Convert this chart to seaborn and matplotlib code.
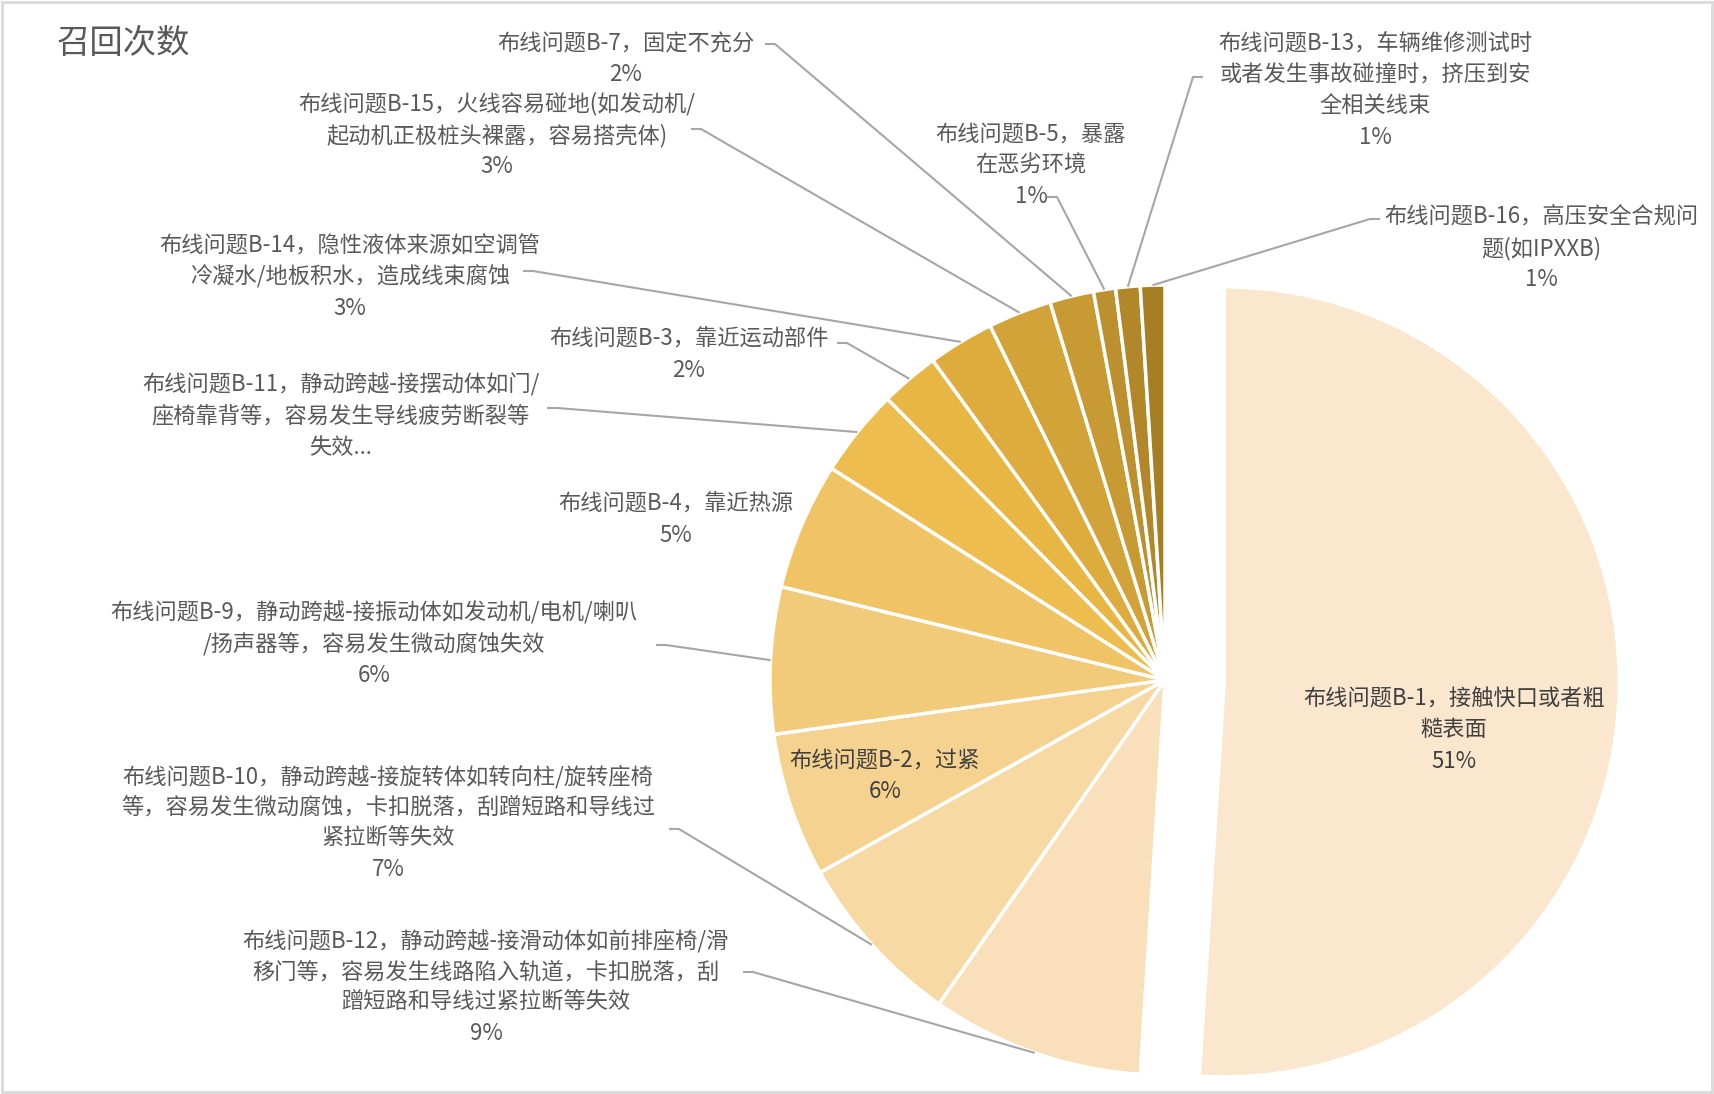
import matplotlib
matplotlib.use("Agg")
import matplotlib.pyplot as plt
import seaborn as sns
import numpy as np

# recall issues, in pie order (clockwise from 12 o'clock)
issues = ["B-1", "B-12", "B-10", "B-2", "B-9", "B-4", "B-11",
          "B-3", "B-14", "B-15", "B-7", "B-5", "B-13", "B-16"]

label_texts = [
    "布线问题B-1，接触快口或者粗\n糙表面",
    "布线问题B-12，静动跨越-接滑动体如前排座椅/滑\n移门等，容易发生线路陷入轨道，卡扣脱落，刮\n蹭短路和导线过紧拉断等失效",
    "布线问题B-10，静动跨越-接旋转体如转向柱/旋转座椅\n等，容易发生微动腐蚀，卡扣脱落，刮蹭短路和导线过\n紧拉断等失效",
    "布线问题B-2，过紧",
    "布线问题B-9，静动跨越-接振动体如发动机/电机/喇叭\n/扬声器等，容易发生微动腐蚀失效",
    "布线问题B-4，靠近热源",
    "布线问题B-11，静动跨越-接摆动体如门/\n座椅靠背等，容易发生导线疲劳断裂等\n失效...",
    "布线问题B-3，靠近运动部件",
    "布线问题B-14，隐性液体来源如空调管\n冷凝水/地板积水，造成线束腐蚀",
    "布线问题B-15，火线容易碰地(如发动机/\n起动机正极桩头裸露，容易搭壳体)",
    "布线问题B-7，固定不充分",
    "布线问题B-5，暴露\n在恶劣环境",
    "布线问题B-13，车辆维修测试时\n或者发生事故碰撞时，挤压到安\n全相关线束",
    "布线问题B-16，高压安全合规问\n题(如IPXXB)",
]

# share of recalls (%)
shares = [51.0, 8.7, 7.2, 5.9, 6.0, 5.2, 3.6, 2.4, 2.7, 2.6, 1.8, 0.9, 1.0, 1.0]

# B-11's percentage is cut off in the original label box
show_pct = [True] * 14
show_pct[6] = False

title = "召回次数"

# ---- layout (pixels, y down) ----
W, H = 1714, 1094
center = (1165, 680)
radius = 395
label_xy = [(1454, 730), (486, 987), (388, 823), (885, 776), (374, 644),
            (676, 520), (341, 416), (689, 355), (350, 277), (497, 135),
            (626, 59), (1031, 165), (1375, 91), (1541, 248)]
leader_from = [None, (743, 972), (669, 829), None, (656, 645),
               None, (547, 408), (837, 343), (523, 271), (691, 129),
               (765, 44), (1047, 197), (1203, 77), (1380, 219)]
inside = [True, False, False, True] + [False] * 10

sns.set_theme(style="white")
plt.rcParams['font.family'] = ['Noto Sans CJK SC', 'DejaVu Sans']

colors = sns.blend_palette(["#FBE7CE", "#EDBA45", "#A67E24"], n_colors=len(shares))

fig = plt.figure(figsize=(W / 100, H / 100), dpi=100)
ax = fig.add_axes([0, 0, 1, 1])

# explode is in data units here, so scale it by the radius
explode = [0.15 * radius] + [0] * (len(shares) - 1)
wedges, _ = ax.pie(shares, colors=colors, startangle=-90, counterclock=True,
                   explode=explode, radius=radius, center=center,
                   wedgeprops=dict(edgecolor="white", linewidth=2.5))

ax.set_xlim(0, W)
ax.set_ylim(H, 0)
ax.set_aspect("equal")
ax.axis("off")

total = sum(shares)
for i, w in enumerate(wedges):
    txt = label_texts[i]
    if show_pct[i]:
        txt += "\n{}%".format(int(round(shares[i] / total * 100)))
    lx, ly = label_xy[i]
    ax.text(lx, ly, txt, ha="center", va="center", multialignment="center",
            fontsize=16, color="#404040" if inside[i] else "#595959",
            linespacing=1.45)
    if leader_from[i] is not None:
        th = np.deg2rad((w.theta1 + w.theta2) / 2)
        cx, cy = w.center
        ex = cx + w.r * np.cos(th)
        ey = cy + w.r * np.sin(th)
        sx, sy = leader_from[i]
        step = 10 if ex > sx else -10
        ax.plot([sx, sx + step, ex], [sy, sy, ey], color="#A6A6A6", lw=1.5,
                solid_capstyle="butt")

ax.text(57, 44, title, ha="left", va="center", fontsize=24, color="#595959")

fig.patches.append(plt.Rectangle((0.001, 0.002), 0.998, 0.996, transform=fig.transFigure,
                                 fill=False, edgecolor="#D9D9D9", lw=2))

fig.savefig("out.png", dpi=100)
